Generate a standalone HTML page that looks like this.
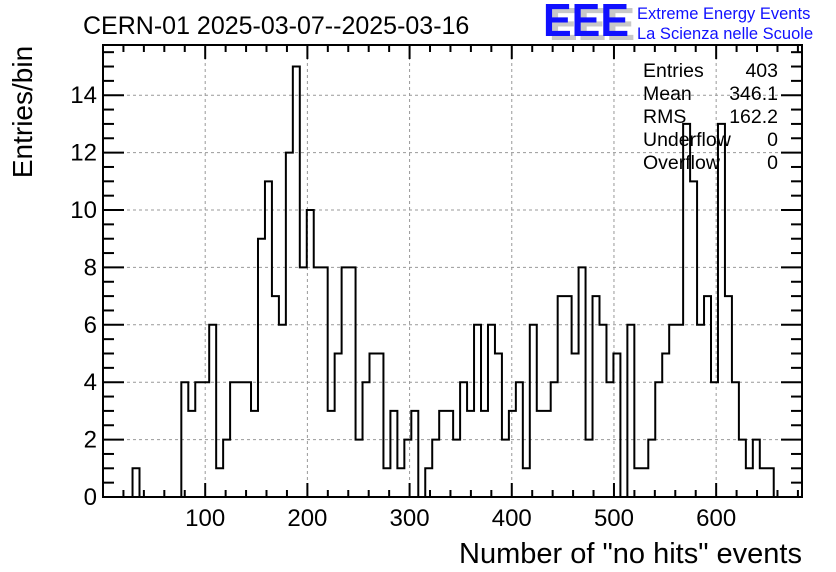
<!DOCTYPE html>
<html><head><meta charset="utf-8"><style>
body{margin:0;background:#fff}
svg{display:block;font-family:"Liberation Sans",sans-serif}
</style></head><body>
<svg id="c" width="836" height="572">
<text x="83" y="34" font-size="25">CERN-01 2025-03-07--2025-03-16</text>
<g>
<text x="549" y="40" font-size="46" font-weight="bold" fill="#c8c8c8" textLength="86" lengthAdjust="spacingAndGlyphs">EEE</text>
<text x="543" y="36" font-size="46" font-weight="bold" fill="#1010ff" textLength="86" lengthAdjust="spacingAndGlyphs">EEE</text>
</g>
<text x="637" y="19" font-size="16.5" fill="#1010ff">Extreme Energy Events</text>
<text x="637" y="39" font-size="16.5" fill="#1010ff">La Scienza nelle Scuole</text>
<g id="grid"></g>
<g id="axes"></g>
<path id="hist" fill="none" stroke="#000" stroke-width="2"></path>
<rect x="103" y="45" width="699" height="452" fill="none" stroke="#000" stroke-width="2"/>
<text transform="translate(32,112) rotate(-90)" text-anchor="middle" font-size="28">Entries/bin</text>
<text x="802" y="563" text-anchor="end" font-size="29">Number of "no hits" events</text>
<g font-size="19.5">
<text x="643" y="77">Entries</text><text x="778" y="77" text-anchor="end">403</text>
<text x="643" y="100">Mean</text><text x="778" y="100" text-anchor="end">346.1</text>
<text x="643" y="123">RMS</text><text x="778" y="123" text-anchor="end">162.2</text>
<text x="643" y="146">Underflow</text><text x="778" y="146" text-anchor="end">0</text>
<text x="643" y="169">Overflow</text><text x="778" y="169" text-anchor="end">0</text>
</g>
</svg>
<script>
const binStart = 28.9;
const binWidth = 6.82;
const counts = [1,0,0,0,0,0,0,4,3,4,4,6,1,2,4,4,4,3,9,11,7,6,12,15,8,10,8,8,3,5,8,8,
2,4,5,5,1,3,1,2,3,0,1,2,3,3,2,4,3,6,3,6,5,2,3,4,1,6,3,3,4,7,7,5,
8,2,7,6,4,5,0,6,1,1,2,4,5,6,6,13,11,6,7,4,13,7,4,2,1,2,1,1];
const xTicks = [100,200,300,400,500,600];
const yTicks = [0,2,4,6,8,10,12,14];
const X0=103,X1=802,Y0=497,Y1=45;
const xMin=0,xMax=684,yMin=0,yMax=15.75;
function sx(v){return X0+(v-xMin)/(xMax-xMin)*(X1-X0);}
function sy(v){return Y0-(v-yMin)/(yMax-yMin)*(Y0-Y1);}
const NS="http://www.w3.org/2000/svg";
const grid=document.getElementById('grid'),axes=document.getElementById('axes');
function ln(p,x1,y1,x2,y2,attrs){const l=document.createElementNS(NS,'line');l.setAttribute('x1',x1);l.setAttribute('y1',y1);l.setAttribute('x2',x2);l.setAttribute('y2',y2);for(const k in attrs)l.setAttribute(k,attrs[k]);p.appendChild(l);return l;}
function tx(x,y,s,anchor){const t=document.createElementNS(NS,'text');t.setAttribute('x',x);t.setAttribute('y',y);t.setAttribute('font-size','24');t.setAttribute('text-anchor',anchor);t.textContent=s;axes.appendChild(t);return t;}
const g={stroke:'#999','stroke-width':1,'stroke-dasharray':'3,3'};
const k={stroke:'#000','stroke-width':2};
xTicks.forEach(v=>{const x=sx(v);
 const gl=ln(grid,x,Y1,x,Y0,g);
 
 
 const t=tx(x,526,String(v),'middle');
 
 });
for(let v=20;v<xMax;v+=20){const x=sx(v),big=v%100===0?14:7;ln(axes,x,Y0,x,Y0-big,k);ln(axes,x,Y1,x,Y1+big,k);}
yTicks.forEach(v=>{const y=sy(v);
 if(v>0){const gl=ln(grid,X0,y,X1,y,g);
 
 }
 const t=tx(97,y+8,String(v),'end');
 
 });
for(let v=0.5;v<yMax;v+=0.5){const y=sy(v),big=v%2===0?21:11;ln(axes,X0,y,X0+big,y,k);ln(axes,X1,y,X1-big,y,k);}
let d='M'+sx(binStart)+','+sy(0);
counts.forEach((c,i)=>{const a=sx(binStart+i*binWidth),b=sx(binStart+(i+1)*binWidth);d+=' L'+a+','+sy(c)+' L'+b+','+sy(c);});
d+=' L'+sx(binStart+counts.length*binWidth)+','+sy(0);
document.getElementById('hist').setAttribute('d',d);
</script>
</body></html>
